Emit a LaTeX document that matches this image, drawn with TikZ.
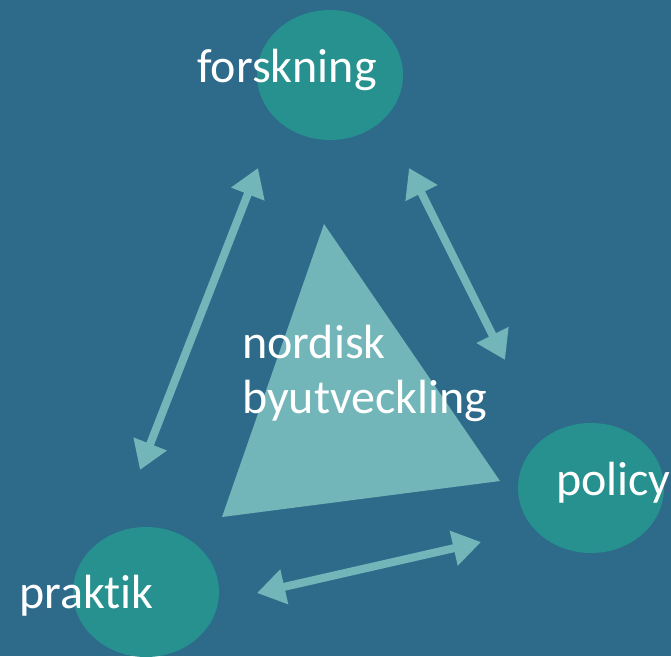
\documentclass[tikz,border=0pt]{standalone}
\usepackage{fontspec}
\setmainfont{Carlito}[Ligatures={NoCommon}]
\usetikzlibrary{arrows.meta,shapes.geometric}
\definecolor{bgc}{HTML}{2E6B8A}
\definecolor{ellc}{HTML}{26918E}
\definecolor{lightc}{HTML}{72B6B9}
\tikzset{
  blob/.style={ellipse, fill=ellc, draw=none, minimum width=146pt, minimum height=130pt, inner sep=0pt},
  lbl/.style={text=white, font=\fontsize{48}{55}\selectfont, inner sep=0pt, anchor=base west},
  dblarrow/.style={draw=lightc, line width=8pt, {Triangle[width=34pt,length=28pt]}-{Triangle[width=34pt,length=28pt]}}
}
\begin{document}
\begin{tikzpicture}[x=1pt,y=-1pt]
\fill[bgc] (0,0) rectangle (671,656);
\useasboundingbox (0,0) rectangle (671,656);
% ellipses
\node[blob] (forsE) at (330,75) {};
\node[blob] (polE) at (591,488) {};
\node[blob] (praE) at (146,592) {};
% triangle
\coordinate (tA) at (324,224);
\coordinate (tB) at (222,517);
\coordinate (tC) at (500,481);
\fill[lightc] (tA) -- (tB) -- (tC) -- cycle;
% labels
\node[lbl] (fors) at (197,82) {forskning};
\node[lbl] (pol) at (556,495) {policy};
\node[lbl] (pra) at (19,608) {praktik};
\node[lbl] (nb1) at (242,358) {nordisk};
\node[lbl] (nb2) at (242,413) {byutveckling};
% arrows
\coordinate (a1s) at (140,470);
\coordinate (a1e) at (258,168);
\coordinate (a2s) at (409,168);
\coordinate (a2e) at (505,360);
\coordinate (a3s) at (257,593);
\coordinate (a3e) at (481,542);
\draw[dblarrow] (a1s) -- (a1e);
\draw[dblarrow] (a2s) -- (a2e);
\draw[dblarrow] (a3s) -- (a3e);
\end{tikzpicture}
\end{document}
